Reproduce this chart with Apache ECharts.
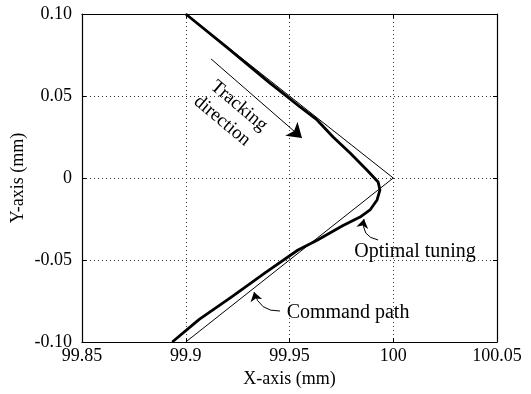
<!DOCTYPE html>
<html>
<head>
<meta charset="utf-8">
<script src="https://cdn.jsdelivr.net/npm/echarts@6/dist/echarts.min.js"></script>
<style>
  html, body { margin: 0; padding: 0; background: #fff; }
  #chart { width: 531px; height: 394px; }
</style>
</head>
<body>
<div id="chart"></div>
<script>
// Axis ranges (mm)
const xRange = [99.85, 100.05];
const yRange = [-0.10, 0.10];
const tickStep = 0.05;

// Command path: a sharp corner at (100, 0)
const cmdX = [99.9, 100.0, 99.9];
const cmdY = [0.10, 0.0, -0.10];

// Tracked path with optimal tuning
const tunedX = [99.9, 99.92, 99.94, 99.9475, 99.9551, 99.9633, 99.971, 99.9792, 99.9873, 99.9927,
                99.9936, 99.9922, 99.9888, 99.984, 99.9758, 99.9633, 99.9541, 99.9382, 99.9223,
                99.9065, 99.8935];
const tunedY = [0.10, 0.0795, 0.0585, 0.051, 0.0433, 0.0354, 0.025, 0.0152, 0.0049, -0.0024,
                -0.0073, -0.0134, -0.0195, -0.0238, -0.029, -0.038, -0.0439, -0.0579, -0.0724,
                -0.0862, -0.10];

// Annotations (data coordinates)
const trackArrow = [[99.9122, 0.0726], [99.956, 0.0244]];
const tunedLeader = [[99.9927, -0.0378], [99.9859, -0.0250]];
const cmdLeader = [[99.9454, -0.0811], [99.9329, -0.0695]];
const notes = [
  { text: 'Tracking', at: [99.9257, 0.0439], rot: -40, size: 19 },
  { text: 'direction', at: [99.9175, 0.0348], rot: -40, size: 19 },
  { text: 'Optimal tuning', at: [100.0105, -0.0451], rot: 0, size: 20 },
  { text: 'Command path', at: [99.9782, -0.0823], rot: 0, size: 20 }
];

const FONT = '"Liberation Serif", "Times New Roman", serif';
const zip = (xs, ys) => xs.map((x, i) => [x, ys[i]]);

const chart = echarts.init(document.getElementById('chart'), null, { renderer: 'canvas' });

const baseAxis = {
  interval: tickStep,
  axisLine: { show: true, onZero: false, lineStyle: { color: '#000', width: 1.2 } },
  axisTick: { show: true, inside: true, length: 4, lineStyle: { color: '#000' } },
  splitLine: { show: false },
  axisLabel: { show: false }
};

function arrowSeries(items, size) {
  return {
    type: 'lines', coordinateSystem: 'cartesian2d', silent: true, z: 5,
    symbol: ['none', 'arrow'], symbolSize: size,
    lineStyle: { color: '#000', width: 1, opacity: 1 },
    data: items.map(it => ({ coords: it.pts, lineStyle: { curveness: it.curve } }))
  };
}

chart.setOption({
  animation: false,
  grid: { left: 82, right: 34, top: 14, bottom: 52, outerBoundsMode: 'none', containLabel: false },
  xAxis: [
    Object.assign({}, baseAxis, {
      type: 'value', position: 'bottom', min: xRange[0], max: xRange[1],
      name: 'X-axis (mm)', nameLocation: 'middle', nameGap: 28,
      nameTextStyle: { fontFamily: FONT, fontSize: 18, color: '#000' },
      axisLabel: {
        show: true, margin: 5, fontFamily: FONT, fontSize: 18, color: '#000',
        formatter: v => String(Number(v.toFixed(2)))
      },
      splitLine: { show: true, lineStyle: { type: [1, 3], color: '#333', width: 1 } }
    }),
    Object.assign({}, baseAxis, { type: 'value', position: 'top', min: xRange[0], max: xRange[1] })
  ],
  yAxis: [
    Object.assign({}, baseAxis, {
      type: 'value', position: 'left', min: yRange[0], max: yRange[1],
      name: 'Y-axis (mm)', nameLocation: 'middle', nameGap: 55, nameMoveOverlap: false,
      nameTextStyle: { fontFamily: FONT, fontSize: 18, color: '#000' },
      axisLabel: {
        show: true, margin: 10, fontFamily: FONT, fontSize: 18, color: '#000',
        formatter: v => (Math.abs(v) < 1e-9 ? '0' : v.toFixed(2))
      },
      splitLine: { show: true, lineStyle: { type: [1, 3], color: '#333', width: 1 } }
    }),
    Object.assign({}, baseAxis, { type: 'value', position: 'right', min: yRange[0], max: yRange[1] })
  ],
  series: [
    {
      name: 'Command path', type: 'line', data: zip(cmdX, cmdY),
      symbol: 'none', lineStyle: { color: '#000', width: 1 }, z: 3
    },
    {
      name: 'Optimal tuning', type: 'line', data: zip(tunedX, tunedY),
      symbol: 'none', lineStyle: { color: '#000', width: 2.8, join: 'round' }, z: 4
    },
    arrowSeries([{ pts: trackArrow, curve: 0 }], [10, 14]),
    arrowSeries([{ pts: tunedLeader, curve: 0.5 }, { pts: cmdLeader, curve: 0.4 }], [6, 9])
  ]
});

// Text annotations placed at their data positions
const graphic = notes.map(n => {
  const p = chart.convertToPixel({ xAxisIndex: 0, yAxisIndex: 0 }, n.at);
  return {
    type: 'text', x: p[0], y: p[1], rotation: n.rot * Math.PI / 180,
    style: {
      text: n.text, fontFamily: FONT, fontSize: n.size, fill: '#000',
      align: 'center', verticalAlign: 'middle'
    },
    z: 10
  };
});
chart.setOption({ graphic: graphic });
</script>
</body>
</html>
